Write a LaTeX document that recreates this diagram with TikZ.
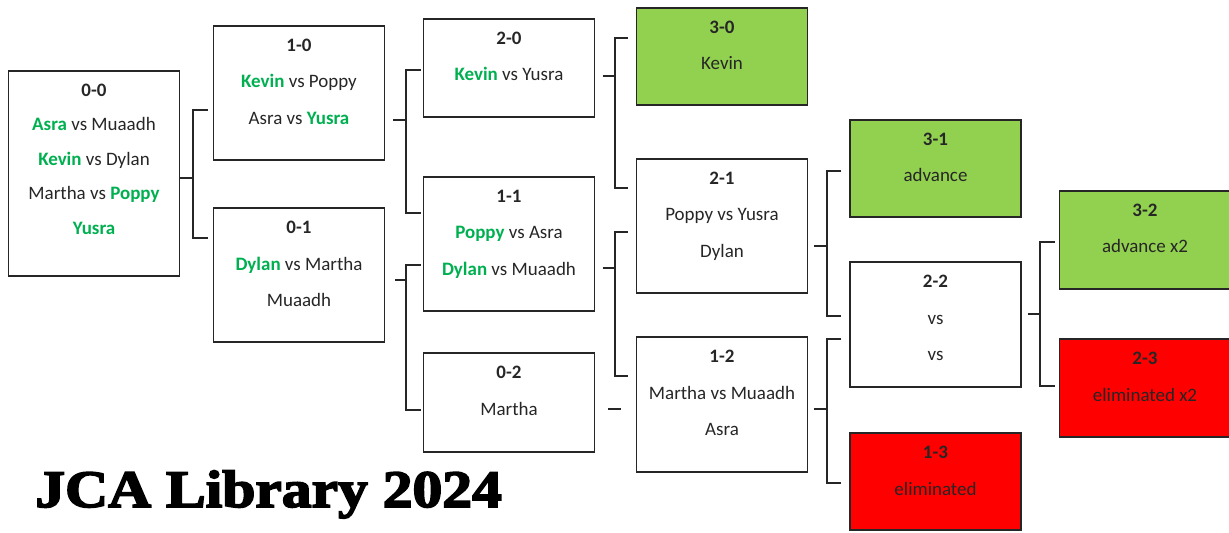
\documentclass[tikz,border=0pt]{standalone}
\usepackage{fontspec}
\setmainfont{Carlito}
\newfontfamily\titlefont{Liberation Serif}[BoldFeatures={FakeBold=3}]
\definecolor{wingreen}{HTML}{00B050}
\definecolor{passgreen}{HTML}{92D050}
\definecolor{failred}{HTML}{FF0000}
\newlength\pxu
\setlength\pxu{0.02cm}
\newcommand{\win}[1]{\textbf{\textcolor{wingreen}{#1}}}
\newcommand{\roundtext}[2]{\parbox[c][#1\pxu][t]{171\pxu}{\centering\vspace*{13\pxu}#2}}

\begin{document}
\begin{tikzpicture}[x=0.02cm, y=-0.02cm]
\tikzstyle{record}=[rectangle, draw=black!85, line width=1.1pt, inner sep=0pt, text=black!85, font=\fontsize{10.8pt}{20.8pt}\selectfont]
\tikzstyle{passrec}=[record, fill=passgreen]
\tikzstyle{failrec}=[record, fill=failred]
\tikzstyle{link}=[draw=black!85, line width=1pt]

\useasboundingbox (0,0) rectangle (1229,532);
\clip (0,0) rectangle (1229,532);

% round 0
\node[record, font=\fontsize{10.8pt}{19.6pt}\selectfont] (R00) at (94,173.5) {\roundtext{205}{\textbf{0-0}\\\win{Asra} vs Muaadh\\\win{Kevin} vs Dylan\\Martha vs \win{Poppy}\\\win{Yusra}}};
% round 1
\node[record] (R10) at (299,93) {\roundtext{134}{\textbf{1-0}\\\win{Kevin} vs Poppy\\Asra vs \win{Yusra}}};
\node[record] (R01) at (299,275) {\roundtext{134}{\textbf{0-1}\\\win{Dylan} vs Martha\\Muaadh}};
% round 2
\node[record] (R20) at (509,68) {\roundtext{98}{\textbf{2-0}\\\win{Kevin} vs Yusra}};
\node[record] (R11) at (509,244) {\roundtext{134}{\textbf{1-1}\\\win{Poppy} vs Asra\\\win{Dylan} vs Muaadh}};
\node[record] (R02) at (509,402.5) {\roundtext{99}{\textbf{0-2}\\Martha}};
% round 3
\node[passrec] (R30) at (722,56.5) {\roundtext{97}{\textbf{3-0}\\Kevin}};
\node[record] (R21) at (722,226) {\roundtext{134}{\textbf{2-1}\\Poppy vs Yusra\\Dylan}};
\node[record] (R12) at (722,404.5) {\roundtext{135}{\textbf{1-2}\\Martha vs Muaadh\\Asra}};
% round 4
\node[passrec] (R31) at (935.5,168.5) {\roundtext{97}{\textbf{3-1}\\advance}};
\node[record] (R22) at (935.5,324.5) {\roundtext{125}{\textbf{2-2}\\vs\\vs}};
\node[failrec] (R13) at (935.5,481.5) {\roundtext{97}{\textbf{1-3}\\eliminated}};
% round 5
\node[passrec] (R32) at (1145,240) {\roundtext{98}{\textbf{3-2}\\advance x2}};
\node[failrec] (R23) at (1145,388) {\roundtext{98}{\textbf{2-3}\\eliminated x2}};

% brackets
\coordinate (J00) at (193,178);
\coordinate (J00u) at (193,110);
\coordinate (J00d) at (193,238);
\draw[link] (R00.east |- J00) -- (J00);
\draw[link, shorten <=2.8pt, shorten >=2.8pt] (R10.west |- J00u) -- (J00u) -- (J00d) -- (R01.west |- J00d);

\coordinate (J10) at (406,120);
\coordinate (J10u) at (406,70);
\coordinate (J10d) at (406,213);
\draw[link, shorten <=4.5pt] (R10.east |- J10) -- (J10);
\draw[link, shorten <=1.1pt, shorten >=1.1pt] (R20.west |- J10u) -- (J10u) -- (J10d) -- (R11.west |- J10d);

\coordinate (J01) at (406,280);
\coordinate (J01u) at (406,265);
\coordinate (J01d) at (406,410);
\draw[link, shorten <=5.7pt] (R01.east |- J01) -- (J01);
\draw[link, shorten <=1.1pt, shorten >=1.1pt] (R11.west |- J01u) -- (J01u) -- (J01d) -- (R02.west |- J01d);

\coordinate (J20) at (615,76);
\coordinate (J20u) at (615,38);
\coordinate (J20d) at (615,188);
\draw[link, shorten <=4pt] (R20.east |- J20) -- (J20);
\draw[link, shorten <=4.5pt, shorten >=4.5pt] (R30.west |- J20u) -- (J20u) -- (J20d) -- (R21.west |- J20d);

\coordinate (J11) at (615,268);
\coordinate (J11u) at (615,232);
\coordinate (J11d) at (615,376);
\draw[link, shorten <=4pt] (R11.east |- J11) -- (J11);
\draw[link, shorten <=4.5pt, shorten >=4.5pt] (R21.west |- J11u) -- (J11u) -- (J11d) -- (R12.west |- J11d);

\coordinate (J02) at (622,409);
\draw[link, shorten <=7.4pt, shorten >=8.5pt] (R02.east |- J02) -- (R12.west |- J02);

\coordinate (J21) at (827,246);
\coordinate (J21u) at (827,171);
\coordinate (J21d) at (827,316);
\draw[link, shorten <=3.4pt] (R21.east |- J21) -- (J21);
\draw[link, shorten <=4.5pt, shorten >=4.5pt] (R31.west |- J21u) -- (J21u) -- (J21d) -- (R22.west |- J21d);

\coordinate (J12) at (827,409);
\coordinate (J12u) at (827,339);
\coordinate (J12d) at (827,483);
\draw[link, shorten <=3.4pt] (R12.east |- J12) -- (J12);
\draw[link, shorten <=4.5pt, shorten >=4.5pt] (R22.west |- J12u) -- (J12u) -- (J12d) -- (R13.west |- J12d);

\coordinate (J22) at (1040,314);
\coordinate (J22u) at (1040,242);
\coordinate (J22d) at (1040,386);
\draw[link, shorten <=3.4pt] (R22.east |- J22) -- (J22);
\draw[link, shorten <=2.3pt, shorten >=2.3pt] (R32.west |- J22u) -- (J22u) -- (J22d) -- (R23.west |- J22d);

% title
\node[anchor=base west, inner sep=0pt, font=\titlefont\bfseries\fontsize{30pt}{30pt}\selectfont] (title) at (35,507) {\scalebox{1.13}[1]{JCA Library 2024}};
\end{tikzpicture}
\end{document}
